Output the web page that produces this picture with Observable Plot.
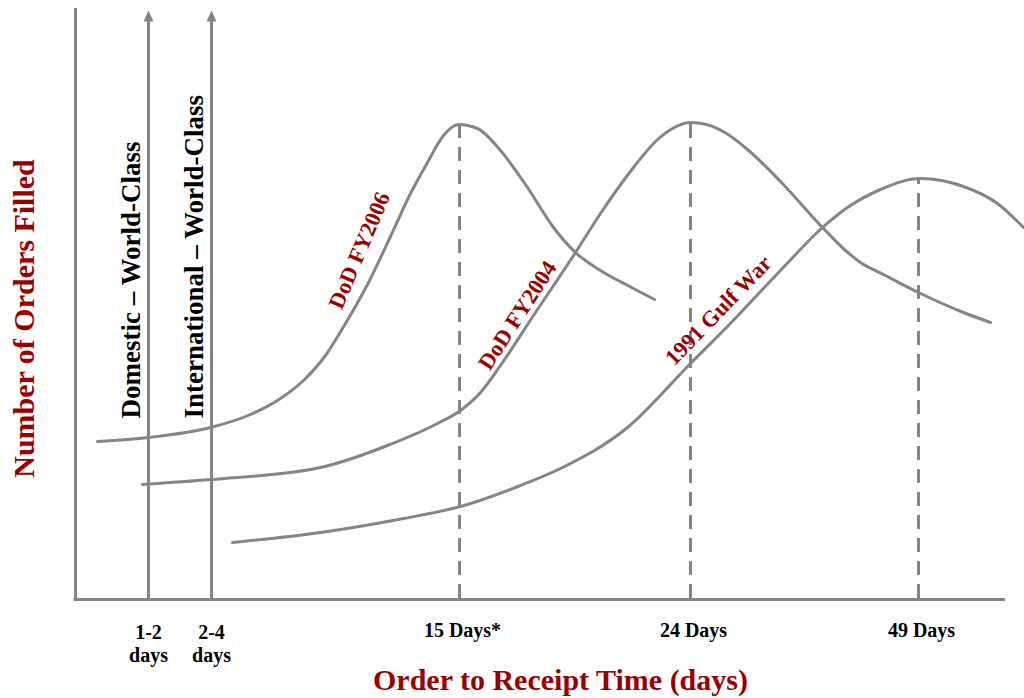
<!DOCTYPE html>
<html>
<head>
<meta charset="utf-8">
<script src="https://cdn.jsdelivr.net/npm/d3@7"></script>
<script src="https://cdn.jsdelivr.net/npm/@observablehq/plot@0.6"></script>
<style>
  html, body { margin: 0; padding: 0; background: #fff; }
  #chart svg { display: block; }
</style>
</head>
<body>
<div id="chart"></div>
<script>
// Schematic units: x = position along the time axis, y = orders filled (0 at the axis)
const seriesNames = ["DoD FY2006", "DoD FY2004", "1991 Gulf War"];

const fy2006 = [
  [97, 157], [148, 161], [210, 171], [250, 184], [280, 200], [303, 218], [325, 243],
  [345, 275], [367, 314], [390, 362], [410, 405], [427, 436], [443, 463], [458, 474],
  [477, 470], [500, 448], [527, 411], [553, 371], [575, 346], [600, 328],
  [633, 310], [654, 299]
];
const fy2004 = [
  [142, 114], [210, 119], [320, 131], [387, 153], [437, 175], [460, 188], [480, 206],
  [500, 233], [533, 283], [575, 346], [600, 385], [633, 431], [655, 457], [672, 470],
  [690, 476], [706, 474], [726, 465], [747, 449], [780, 417], [822, 371], [845, 348],
  [860, 336], [883, 324], [918, 306], [963, 286], [990, 276]
];
const gulf = [
  [232, 56], [320, 66], [403, 80], [460, 92], [520, 113], [560, 130], [627, 171],
  [690, 235], [723, 268], [780, 328], [822, 371], [847, 391], [880, 409], [920, 420],
  [963, 412], [997, 395], [1023, 371]
];

// Reference markers
const worldClass = [
  {x: 148, label: "Domestic – World-Class", tick: "1-2\ndays"},
  {x: 211, label: "International – World-Class", tick: "2-4\ndays"}
];
const peaks = [
  {x: 459, top: 473, tick: "15 Days*"},
  {x: 690, top: 476, tick: "24 Days"},
  {x: 918, top: 420, tick: "49 Days"}
];
const axisTop = 590;
const arrowTip = 588;
const axisLeft = 75;
const axisRight = 1005;

// Curve labels (centre position and angle along the curve)
const curveLabels = [
  {x: 359, y: 348, text: "DoD FY2006", angle: -67},
  {x: 517, y: 283, text: "DoD FY2004", angle: -57},
  {x: 718, y: 288, text: "1991 Gulf War", angle: -46}
];

const toRows = (pts, name) => pts.map(([x, y]) => ({x, y, name}));
const curves = [
  ...toRows(fy2006, seriesNames[0]),
  ...toRows(fy2004, seriesNames[1]),
  ...toRows(gulf, seriesNames[2])
];

const gray = "#858585";
const red = "#9b0000";
const font = "Liberation Serif, Times New Roman, serif";

// filled arrowhead shape for Plot.vector (tip at the anchor)
const head = {
  draw(context, l) {
    context.moveTo(0, 0);
    context.lineTo(-5, l);
    context.lineTo(5, l);
    context.closePath();
  }
};

const plot = Plot.plot({
  width: 1024,
  height: 698,
  margin: 0,
  x: {domain: [0, 1024], range: [0, 1024], axis: null},
  y: {domain: [-100, 598], range: [698, 0], axis: null},
  style: {fontFamily: font, background: "#fff"},
  marks: [
    // axes
    Plot.ruleX([axisLeft], {y1: -1, y2: axisTop, stroke: gray, strokeWidth: 3}),
    Plot.ruleY([-1], {x1: axisLeft - 1.5, x2: axisRight, stroke: gray, strokeWidth: 3}),
    // world-class arrows
    Plot.ruleX(worldClass, {x: "x", y1: -1, y2: arrowTip - 8, stroke: gray, strokeWidth: 3}),
    Plot.vector(worldClass, {x: "x", y: arrowTip, length: 11, rotate: 0, anchor: "start",
      shape: head, fill: gray, stroke: "none"}),
    // dashed peak markers
    Plot.ruleX(peaks, {x: "x", y1: 0, y2: "top", stroke: gray, strokeWidth: 3, strokeDasharray: "14,9"}),
    // curves
    Plot.line(curves, {x: "x", y: "y", z: "name", curve: "monotone-x", stroke: gray, strokeWidth: 3}),
    // rotated arrow labels
    Plot.text(worldClass, {x: d => d.x - 17, y: 180, text: "label", rotate: -90, textAnchor: "start",
      lineAnchor: "middle", fontSize: 27, fontWeight: "bold", fill: "#000"}),
    // curve labels
    ...curveLabels.map(d => Plot.text([d], {x: "x", y: "y", text: "text", rotate: d.angle,
      textAnchor: "middle", lineAnchor: "middle", fontSize: 22.5, fontWeight: "bold", fill: red})),
    // tick labels
    Plot.text(worldClass, {x: "x", y: -24, text: "tick", lineAnchor: "top", lineHeight: 1.15,
      fontSize: 20, fontWeight: "bold", fill: "#000"}),
    Plot.text(peaks, {x: d => d.x + 3, y: -38, text: "tick", lineAnchor: "bottom",
      fontSize: 20, fontWeight: "bold", fill: "#000"}),
    // axis titles
    Plot.text(["Order to Receipt Time (days)"], {x: 560, y: -91, text: d => d, lineAnchor: "bottom",
      fontSize: 30, fontWeight: "bold", fill: red}),
    Plot.text(["Number of Orders Filled"], {x: 24, y: 280, text: d => d, rotate: -90,
      lineAnchor: "middle", fontSize: 30, fontWeight: "bold", fill: red})
  ]
});
document.getElementById("chart").appendChild(plot);
</script>
</body>
</html>
